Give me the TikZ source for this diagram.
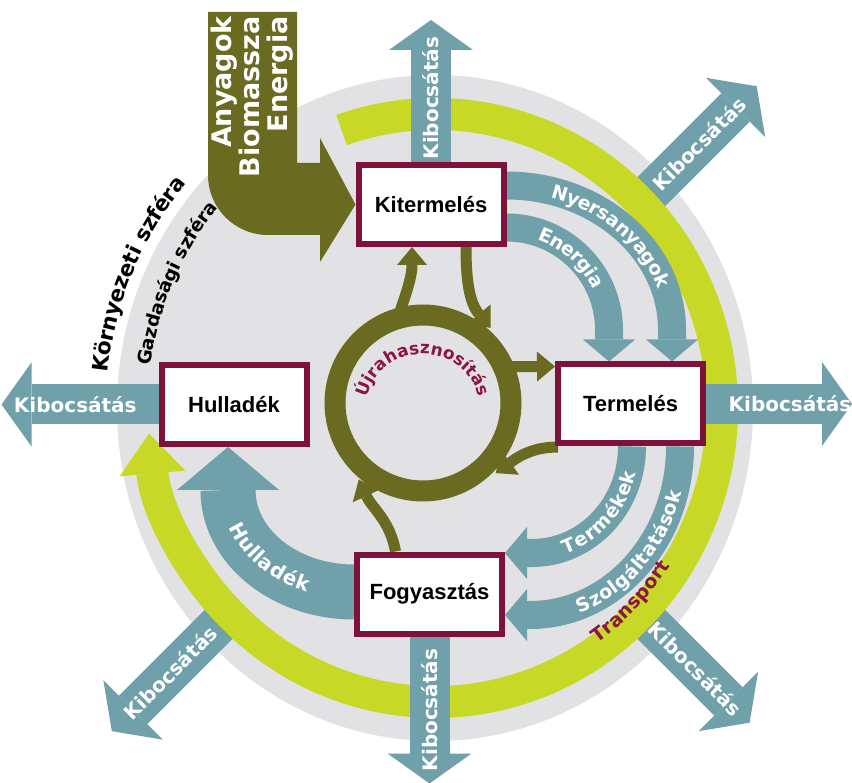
\documentclass[tikz,border=0pt]{standalone}
\usepackage{fontspec}
\setmainfont{Liberation Sans}
\newfontfamily\widesans{DejaVu Sans}
\usetikzlibrary{arrows.meta,decorations.text,backgrounds}

\definecolor{bggray}{RGB}{226,226,228}
\definecolor{ringlime}{RGB}{200,216,38}
\definecolor{flowteal}{RGB}{112,160,170}
\definecolor{reuseolive}{RGB}{106,106,32}
\definecolor{boxred}{RGB}{125,18,58}
\definecolor{labelred}{RGB}{140,22,64}

\newcommand\boxfont{\fontsize{22}{22}\selectfont\bfseries}
\newcommand\emitfont{\widesans\fontsize{20}{20}\selectfont\bfseries}
\newcommand\srcfont{\widesans\fontsize{27}{28}\selectfont\bfseries}
\newcommand\arcfont{\widesans\fontsize{19}{19}\selectfont\bfseries}
\newcommand\wastefont{\widesans\fontsize{20}{20}\selectfont\bfseries}
\newcommand\spherefont{\widesans\fontsize{21.5}{21.5}\selectfont\bfseries}
\newcommand\innerspherefont{\widesans\fontsize{18.5}{18.5}\selectfont\bfseries}
\newcommand\reusefont{\widesans\fontsize{17}{17}\selectfont\bfseries}

\tikzset{
  box/.style={draw=boxred, line width=6pt, fill=white, minimum width=145pt,
    minimum height=79pt, inner sep=0pt, font=\boxfont},
  emit/.style={draw=flowteal, line width=40pt,
    -{Triangle[width=84pt,length=30pt,line width=0pt]}},
  flow/.style={draw=flowteal, line width=28pt,
    -{Triangle[width=52pt,length=22pt,line width=0pt]}},
  wasteflow/.style={draw=flowteal, line width=55pt,
    -{Triangle[width=102pt,length=43pt,line width=0pt]}},
  reuse/.style={draw=reuseolive, line width=11pt,
    -{Triangle[width=30pt,length=18pt,line width=0pt]}},
  emitlabel/.style={text=white, font=\emitfont, inner sep=0pt},
  arclabel/.style={decorate, decoration={text along path, text align=center, #1}},
}

\begin{document}
\begin{tikzpicture}[x=1pt,y=1pt]
\useasboundingbox (0,0) rectangle (852,-783);
\coordinate (C) at (435,-408);   % centre of the two spheres
\coordinate (R) at (423,-403);   % centre of the recycling ring

% the four stations
\node[box] (kit) at (431,-204.5) {Kitermelés};
\node[box] (ter) at (630.5,-404) {Termelés};
\node[box] (fog) at (429.5,-594) {Fogyasztás};
\node[box] (hul) at (234,-404.5) {Hulladék};

% free ends of the emissions
\coordinate (topE) at ([yshift=142pt]kit.north);
\coordinate (botE) at ([yshift=-147pt]fog.south);
\coordinate (leftE) at ([xshift=-157pt]hul.west);
\coordinate (rightE) at ([xshift=146pt]ter.east);

% ends of the flows
\coordinate (nyS) at ([yshift=19pt]kit.east);
\coordinate (nyE) at ([xshift=41.5pt]ter.north);
\coordinate (nyC) at ([yshift=-144.5pt]nyS);
\coordinate (enS) at ([yshift=-23pt]kit.east);
\coordinate (enE) at ([xshift=-21.5pt]ter.north);
\coordinate (enC) at ([yshift=-102.5pt]enS);
\coordinate (tkS) at ([xshift=1.5pt]ter.south);
\coordinate (tkE) at ([yshift=41pt]fog.east);
\coordinate (tkC) at ([xshift=-100pt]tkS);
\coordinate (szS) at ([xshift=49.5pt]ter.south);
\coordinate (szE) at ([yshift=-21pt]fog.east);
\coordinate (szC) at ([xshift=-150pt]szS);
\coordinate (hfS) at ([yshift=2pt]fog.west);
\coordinate (hfE) at ([xshift=-6pt]hul.south);
\coordinate (hfC) at ([yshift=102pt]hfS);

% ends of the recycling branches
\coordinate (r1) at ([shift={(107:88)}]R);
\coordinate (r2) at ([shift={(48:101)}]R);
\coordinate (r3) at ([shift={(25:86)}]R);
\coordinate (r4) at ([shift={(-44:101)}]R);
\coordinate (r5) at ([shift={(230:100)}]R);
\coordinate (kitL) at ([xshift=-19pt]kit.south);
\coordinate (kitR) at ([xshift=35pt]kit.south);
\coordinate (terT) at ([yshift=37.5pt]ter.west);
\coordinate (terB) at ([xshift=3pt,yshift=-43pt]ter.west);
\coordinate (fogT) at ([xshift=-34pt]fog.north);

\begin{pgfonlayer}{background}
\fill[white] (0,0) rectangle (852,-783);
\fill[bggray] (C) ellipse [x radius=318, y radius=333];

% diagonal emissions
\foreach \a/\r/\t [count=\i] in {45/455/45,-45/445/-45,225/457/45} {
  \coordinate (dS\i) at ([shift={(\a:292)}]C);
  \coordinate (dE\i) at ([shift={(\a:\r)}]C);
  \draw[emit] (dS\i) -- (dE\i) node[midway, emitlabel, rotate=\t] {Kibocsátás};
}

% transport ring
\draw[ringlime, line width=32pt, -{Triangle[width=66pt,length=40pt,line width=0pt]}]
  ([shift={(109:287 and 294)}]C) arc[start angle=109, end angle=-175, x radius=287, y radius=294];

% input from the environment
\fill[reuseolive] (208,-12) -- (297,-12) -- (297,-163) -- (320,-163) -- (320,-138)
  -- (kit.west) -- (320,-262) -- (320,-235) -- (268,-235)
  arc[start angle=-90, end angle=-180, radius=60] -- cycle;

% emissions from the stations
\draw[emit] (kit.north) -- (topE) node[pos=0.45, emitlabel, rotate=90] {Kibocsátás};
\draw[emit] (fog.south) -- (botE) node[pos=0.5, emitlabel, rotate=90] {Kibocsátás};
\draw[emit] (hul.west) -- (leftE) node[pos=0.53, emitlabel] {Kibocsátás};
\draw[emit] (ter.east) -- (rightE) node[pos=0.575, emitlabel] {Kibocsátás};

% flows between the stations
\draw[flow] (nyS) arc[start angle=90, end angle=0, x radius=165.5, y radius=144.5] -- (nyE);
\draw[flow] (enS) arc[start angle=90, end angle=0, radius=102.5] -- (enE);
\draw[flow] (tkS) arc[start angle=0, end angle=-90, x radius=100, y radius=106.5] -- (tkE);
\draw[flow] (szS) arc[start angle=0, end angle=-90, x radius=150, y radius=168.5] -- (szE);
\draw[wasteflow] (hfS) arc[start angle=270, end angle=180, x radius=126, y radius=102] -- (hfE);

% recycling ring
\draw[reuseolive, line width=21pt] (R) circle[radius=88];
\draw[reuse] (r1) to[out=70, in=-90] (kitL);
\draw[reuse] (kitR) to[out=-90, in=130] (r2);
\draw[reuse] (r3) -- (terT);
\draw[reuse] (terB) to[out=180, in=36] (r4);
\draw[reuse] (fogT) to[out=100, in=-65] (r5);
\end{pgfonlayer}

% labels
\node[text=white, font=\srcfont, rotate=90, align=right, anchor=north east, inner sep=0pt]
  (src) at (211,-16) {Anyagok\\Biomassza\\Energia};

\path[arclabel={text={|\arcfont|Nyersanyagok}, text color=white, raise=-7pt}]
  ([shift={(86:165.5 and 144.5)}]nyC) arc[start angle=86, end angle=4, x radius=165.5, y radius=144.5];
\path[arclabel={text={|\arcfont|Energia}, text color=white, raise=-7pt}]
  ([shift={(82:102.5)}]enC) arc[start angle=82, end angle=14, radius=102.5];
\path[arclabel={text={|\arcfont|Termékek}, text color=white, raise=-7pt}]
  ([shift={(-84:100 and 106.5)}]tkC) arc[start angle=-84, end angle=-2, x radius=100, y radius=106.5];
\path[arclabel={text={|\arcfont|Szolgáltatások}, text color=white, raise=-7pt}]
  ([shift={(-84:150 and 168.5)}]szC) arc[start angle=-84, end angle=-4, x radius=150, y radius=168.5];
\path[arclabel={text={|\wastefont|Hulladék}, text color=white, raise=-7pt}]
  ([shift={(186:126 and 102)}]hfC) arc[start angle=186, end angle=260, x radius=126, y radius=102];

\path[arclabel={text={|\arcfont|Transport}, text color=labelred, raise=-7pt}]
  ([shift={(-60:274 and 281)}]C) arc[start angle=-60, end angle=-28, x radius=274, y radius=281];
\path[arclabel={text={|\spherefont|Környezeti szféra}, text color=black, raise=-8pt}]
  ([shift={(178:337 and 350)}]C) arc[start angle=178, end angle=135, x radius=337, y radius=350];
\path[arclabel={text={|\innerspherefont|Gazdasági szféra}, text color=black, raise=-7pt}]
  ([shift={(176:294 and 312)}]C) arc[start angle=176, end angle=135, x radius=294, y radius=312];

\coordinate (Rt) at (423,-412);
\path[arclabel={text={|\reusefont|Újrahasznosítás}, text color=labelred}]
  ([shift={(183:58)}]Rt) arc[start angle=183, end angle=-3, radius=58];
\end{tikzpicture}
\end{document}
